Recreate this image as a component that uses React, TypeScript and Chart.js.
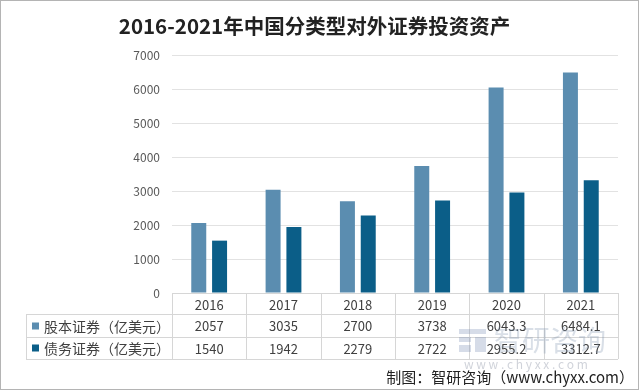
import React, { useEffect, useRef } from "react";
import { Chart, registerables } from "chart.js";

Chart.register(...registerables);

const TITLE = "2016-2021年中国分类型对外证券投资资产";
const SOURCE = "制图：智研咨询（www.chyxx.com）";
const WATERMARK = "智研咨询";
const WATERMARK_URL = "w w w . c h y x x . c o m";

const years = ["2016", "2017", "2018", "2019", "2020", "2021"];
const equityLabel = "股本证券（亿美元）";
const debtLabel = "债务证券（亿美元）";
const equity = [2057, 3035, 2700, 3738, 6043.3, 6484.1];
const debt = [1540, 1942, 2279, 2722, 2955.2, 3312.7];
const equityText = ["2057", "3035", "2700", "3738", "6043.3", "6484.1"];
const debtText = ["1540", "1942", "2279", "2722", "2955.2", "3312.7"];
const yMin = 0;
const yMax = 7000;
const yStep = 1000;

const EQUITY_COLOR = "#5B8DB0";
const DEBT_COLOR = "#0B5E88";
const FONT = "'Noto Sans CJK SC', 'Noto Sans', sans-serif";

const tablePlugin = {
  id: "dataTable",
  afterDraw(chart: any) {
    const { ctx, chartArea, scales } = chart;
    const xs = scales.x;
    const n = years.length;
    const colW = (chartArea.right - chartArea.left) / n;
    const top = chartArea.bottom;
    const row1Top = top + 21;
    const row2Top = top + 44;
    const bottom = top + 66;
    const tableLeft = 26;

    ctx.save();
    ctx.strokeStyle = "#D6D6D6";
    ctx.lineWidth = 1;
    const hline = (x1: number, x2: number, y: number) => {
      ctx.beginPath();
      ctx.moveTo(x1, Math.round(y) + 0.5);
      ctx.lineTo(x2, Math.round(y) + 0.5);
      ctx.stroke();
    };
    const vline = (x: number, y1: number, y2: number) => {
      ctx.beginPath();
      ctx.moveTo(Math.round(x) + 0.5, y1);
      ctx.lineTo(Math.round(x) + 0.5, y2);
      ctx.stroke();
    };
    hline(chartArea.left, chartArea.right, top);
    hline(tableLeft, chartArea.right, row1Top);
    hline(tableLeft, chartArea.right, row2Top);
    hline(tableLeft, chartArea.right, bottom);
    for (let i = 0; i <= n; i++) {
      vline(chartArea.left + i * colW, top, bottom);
    }
    vline(tableLeft, row1Top, bottom);

    // row labels
    ctx.textBaseline = "middle";
    const rows = [
      { label: equityLabel, color: EQUITY_COLOR, texts: equityText, y: (row1Top + row2Top) / 2 },
      { label: debtLabel, color: DEBT_COLOR, texts: debtText, y: (row2Top + bottom) / 2 },
    ];
    rows.forEach((r) => {
      ctx.fillStyle = r.color;
      ctx.fillRect(32, Math.round(r.y) - 3.5, 7, 7);
      ctx.fillStyle = "#404040";
      ctx.textAlign = "left";
      ctx.font = `14px ${FONT}`;
      ctx.fillText(r.label, 44, r.y + 1);
      ctx.textAlign = "center";
      ctx.font = `13px ${FONT}`;
      r.texts.forEach((t, i) => {
        ctx.fillText(t, xs.getPixelForValue(i), r.y + 1);
      });
    });

    // watermark
    ctx.fillStyle = "rgba(120,140,170,0.28)";
    ctx.font = `28px ${FONT}`;
    ctx.textAlign = "left";
    ctx.fillText(WATERMARK, 494, 340);
    ctx.fillStyle = "rgba(120,140,180,0.30)";
    ctx.fillRect(459, 329, 27, 5);
    ctx.fillRect(459, 337, 12, 5);
    ctx.fillRect(475, 337, 11, 15);
    ctx.fillRect(459, 345, 12, 7);
    ctx.font = `12px ${FONT}`;
    ctx.fillStyle = "rgba(120,130,150,0.35)";
    ctx.fillText(WATERMARK_URL, 464, 364);

    // source
    ctx.fillStyle = "#222222";
    ctx.font = `15px ${FONT}`;
    ctx.textAlign = "right";
    ctx.fillText(SOURCE, 634, 377);

    // frame
    ctx.strokeStyle = "#B4B4B4";
    ctx.strokeRect(0.5, 0.5, 638, 389);
    ctx.restore();
  },
};

export default function App() {
  const ref = useRef<HTMLCanvasElement | null>(null);

  useEffect(() => {
    document.body.style.margin = "0";
    const canvas = ref.current;
    if (!canvas) return;
    const chart = new Chart(canvas, {
      type: "bar",
      data: {
        labels: years,
        datasets: [
          {
            label: equityLabel,
            data: equity,
            backgroundColor: EQUITY_COLOR,
            categoryPercentage: 0.56,
            barPercentage: 0.72,
          },
          {
            label: debtLabel,
            data: debt,
            backgroundColor: DEBT_COLOR,
            categoryPercentage: 0.56,
            barPercentage: 0.72,
          },
        ],
      },
      options: {
        responsive: false,
        animation: false,
        devicePixelRatio: 1,
        layout: { padding: { left: 11, right: 22, top: 0, bottom: 0 } },
        plugins: {
          legend: { display: false },
          tooltip: { enabled: false },
          title: {
            display: true,
            text: TITLE,
            color: "#222222",
            font: { family: FONT, size: 20.5, weight: "bold", lineHeight: 1.2 },
            padding: { top: 14, bottom: 16.4 },
          },
        },
        scales: {
          x: {
            grid: { display: false, drawTicks: false },
            border: { display: false },
            ticks: {
              color: "#404040",
              font: { family: FONT, size: 13 },
              padding: 4,
            },
            afterFit: (s: any) => {
              s.height = 98;
            },
          },
          y: {
            min: yMin,
            max: yMax,
            border: { display: false },
            grid: { color: "#E2E2E2", drawTicks: false },
            ticks: {
              stepSize: yStep,
              color: "#595959",
              font: { family: FONT, size: 12 },
              padding: 12,
              callback: (v: any) => String(v),
            },
            afterFit: (s: any) => {
              s.width = 161;
            },
          },
        },
      },
      plugins: [tablePlugin],
    });
    return () => chart.destroy();
  }, []);

  return (
    <div style={{ width: 640, height: 391 }}>
      <canvas ref={ref} width={640} height={391} style={{ display: "block" }} />
    </div>
  );
}
